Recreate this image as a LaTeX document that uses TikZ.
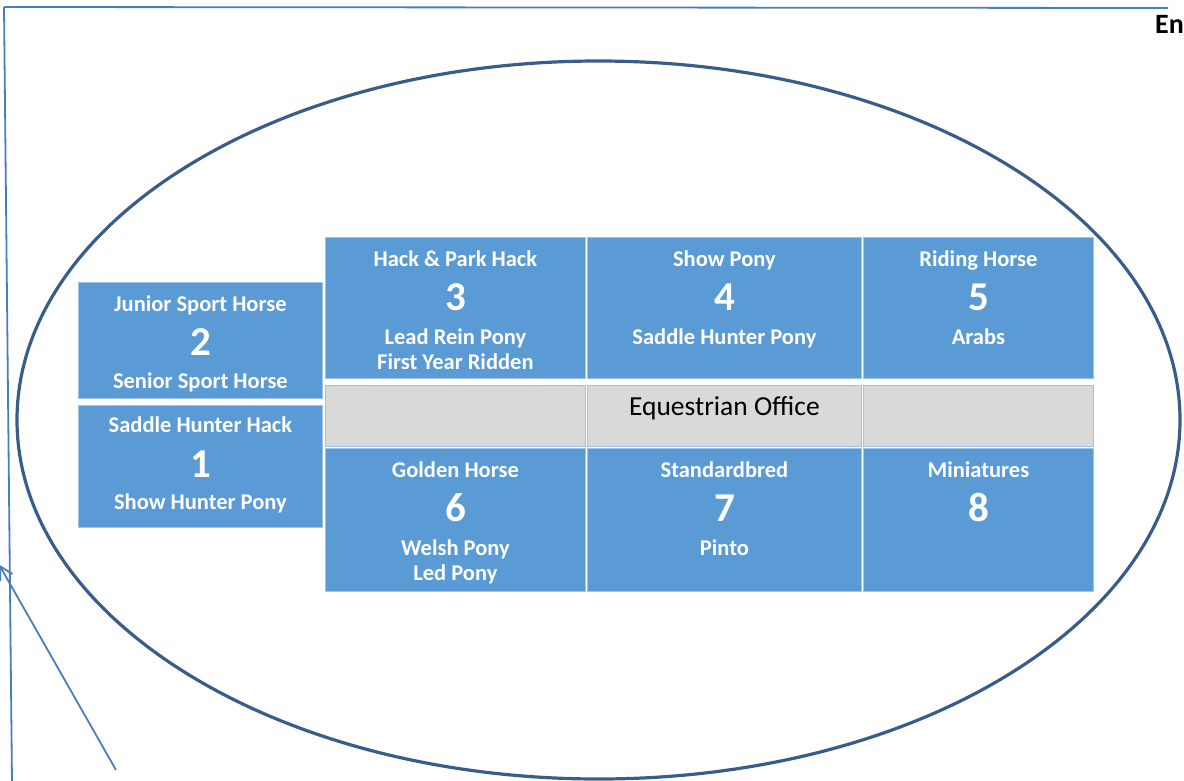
\documentclass[tikz,border=0pt]{standalone}
\usepackage{fontspec}
\setmainfont{Carlito}
\usepackage{tikz}
\usetikzlibrary{positioning}
\usetikzlibrary{arrows.meta}
\usepackage{xcolor}
\definecolor{bayblue}{RGB}{91, 155, 213}
\definecolor{bayedge}{RGB}{157, 195, 230}
\definecolor{officegrey}{RGB}{217, 217, 217}
\definecolor{ringblue}{RGB}{56, 93, 138}
\definecolor{lineblue}{RGB}{74, 126, 187}

\begin{document}
\begin{tikzpicture}[
            x=1pt, y=-1pt,
            node distance=10pt,
            bay/.style={
                rectangle,
                draw=bayedge,
                fill=#1,
                line width=0.8pt,
                anchor=north west,
                inner sep=0pt
            },
            baytitle/.style={
                text=white,
                font=\bfseries\fontsize{22.5}{25}\selectfont,
                inner sep=0pt,
                text height=16pt,
                text depth=6pt
            },
            bayno/.style={
                text=white,
                font=\bfseries\fontsize{41}{44}\selectfont,
                inner sep=0pt,
                text height=26pt,
                text depth=0pt
            },
            baysub/.style={
                text=white,
                font=\bfseries\fontsize{22.5}{25}\selectfont,
                align=center,
                inner sep=0pt,
                text height=#1
            },
            baysub/.default=16pt,
            office/.style={font=\fontsize{27.5}{32}\selectfont, inner sep=0pt},
            ring/.style={draw=ringblue, line width=3.2pt},
            guide/.style={draw=lineblue, line width=1.8pt}
        ]
            \useasboundingbox (0,0) rectangle (1184,780);

            % Ring
            \draw[ring] (598.5,420) ellipse [x radius=581.5, y radius=359];

            % Guide lines
            \coordinate (corner) at (4,7);
            \coordinate (edge) at (1168,8);
            \coordinate (base) at (12,782);
            \coordinate (foot) at (116,770);
            \coordinate (tip) at (-1,564.5);
            \draw[guide] (corner) -- (edge);
            \draw[guide] (corner) -- (base);
            \draw[guide, -{Straight Barb[length=13pt, width=14pt]}] (foot) -- (tip);

            \node[font=\bfseries\fontsize{28}{32}\selectfont, anchor=base west, inner sep=0pt] (entry) at (1155,33) {En};

            % Bays, left column
            \node[bay=bayblue, minimum width=244pt, minimum height=116pt] (bay2) at (78,282) {};
            \node[baytitle, below=13pt of bay2.north] (title2) {Junior Sport Horse};
            \node[bayno, below=12pt of title2] (no2) {2};
            \node[baysub, below=16pt of no2] (sub2) {Senior Sport Horse};

            \node[bay=bayblue, minimum width=244pt, minimum height=122pt] (bay1) at (78,405) {};
            \node[baytitle, below=11pt of bay1.north] (title1) {Saddle Hunter Hack};
            \node[bayno, below=13pt of title1] (no1) {1};
            \node[baysub, below=15.5pt of no1] (sub1) {Show Hunter Pony};

            % Bays, top row
            \node[bay=bayblue, minimum width=260pt, minimum height=141pt] (bay3) at (325,237) {};
            \node[baytitle, below=13pt of bay3.north] (title3) {Hack \& Park Hack};
            \node[bayno, below=11.5pt of title3] (no3) {3};
            \node[baysub=41pt, below=18pt of no3] (sub3) {Lead Rein Pony\\First Year Ridden};

            \node[bay=bayblue, minimum width=274pt, minimum height=141pt] (bay4) at (587,237) {};
            \node[baytitle, below=13pt of bay4.north] (title4) {Show Pony};
            \node[bayno, below=11.5pt of title4] (no4) {4};
            \node[baysub, below=18pt of no4] (sub4) {Saddle Hunter Pony};

            \node[bay=bayblue, minimum width=230pt, minimum height=141pt] (bay5) at (863,237) {};
            \node[baytitle, below=13pt of bay5.north] (title5) {Riding Horse};
            \node[bayno, below=11.5pt of title5] (no5) {5};
            \node[baysub, below=18pt of no5] (sub5) {Arabs};

            % Office row
            \node[bay=officegrey, minimum width=260pt, minimum height=61pt] (office1) at (325,385) {};
            \node[bay=officegrey, minimum width=274pt, minimum height=61pt] (office2) at (587,385) {};
            \node[bay=officegrey, minimum width=230pt, minimum height=61pt] (office3) at (863,385) {};
            \node[office, anchor=base] (officetext) at (office2.center) {Equestrian Office};

            % Bays, bottom row
            \node[bay=bayblue, minimum width=260pt, minimum height=143pt] (bay6) at (325,448) {};
            \node[baytitle, below=13pt of bay6.north] (title6) {Golden Horse};
            \node[bayno, below=11.5pt of title6] (no6) {6};
            \node[baysub=41pt, below=18pt of no6] (sub6) {Welsh Pony\\Led Pony};

            \node[bay=bayblue, minimum width=274pt, minimum height=143pt] (bay7) at (587,448) {};
            \node[baytitle, below=13pt of bay7.north] (title7) {Standardbred};
            \node[bayno, below=11.5pt of title7] (no7) {7};
            \node[baysub, below=18pt of no7] (sub7) {Pinto};

            \node[bay=bayblue, minimum width=230pt, minimum height=143pt] (bay8) at (863,448) {};
            \node[baytitle, below=13pt of bay8.north] (title8) {Miniatures};
            \node[bayno, below=11.5pt of title8] (no8) {8};
        \end{tikzpicture}
\end{document}
